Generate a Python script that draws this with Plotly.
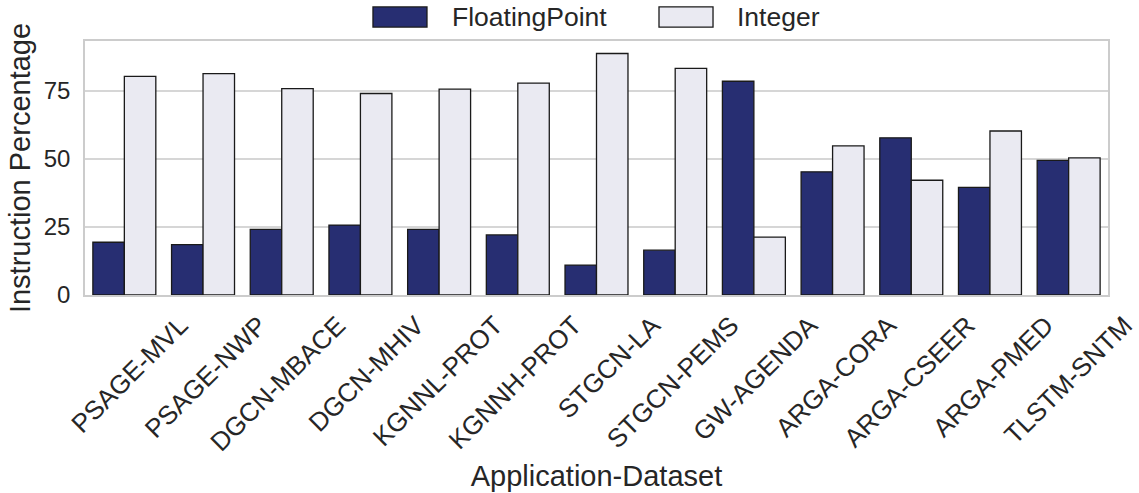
import plotly.graph_objects as go

categories = ["PSAGE-MVL", "PSAGE-NWP", "DGCN-MBACE", "DGCN-MHIV", "KGNNL-PROT",
              "KGNNH-PROT", "STGCN-LA", "STGCN-PEMS", "GW-AGENDA", "ARGA-CORA",
              "ARGA-CSEER", "ARGA-PMED", "TLSTM-SNTM"]
floating_point = [19.4, 18.5, 24.1, 25.7, 24.1, 22.1, 11.0, 16.5, 78.6, 45.3, 57.8, 39.6, 49.5]
integer = [80.4, 81.4, 75.9, 74.1, 75.7, 77.9, 88.8, 83.3, 21.3, 54.8, 42.2, 60.3, 50.4]
series_names = ["FloatingPoint", "Integer"]
y_ticks = [0, 25, 50, 75]

colors = ["#272E72", "#EAEAF2"]
edge = "#1A1A1A"
font_family = "Liberation Sans, Arial, sans-serif"

fig = go.Figure()
for name, vals, col in zip(series_names, [floating_point, integer], colors):
    fig.add_trace(go.Bar(x=categories, y=vals, name=name, showlegend=False,
                         marker=dict(color=col, line=dict(color=edge, width=1.3))))

# custom legend (matplotlib-style wide patches) placed above the plot area
legend_layout = [(0.2815, 0.3343, 0.3568), (0.5611, 0.6139, 0.6354)]
for name, col, (x0, x1, xt) in zip(series_names, colors, legend_layout):
    fig.add_shape(type="rect", xref="paper", yref="paper", x0=x0, x1=x1, y0=1.055, y1=1.134,
                  fillcolor=col, line=dict(color=edge, width=1.3))
    fig.add_annotation(xref="paper", yref="paper", x=xt, y=1.0945, text=name, showarrow=False,
                       xanchor="left", yanchor="middle", font=dict(size=26.5, color="#262626"))

fig.update_layout(
    width=1139, height=493,
    margin=dict(l=85, r=31, t=41, b=198, autoexpand=False),
    paper_bgcolor="white", plot_bgcolor="white",
    barmode="group", bargap=0.2, bargroupgap=0,
    font=dict(family=font_family, size=24, color="#262626"),
)
fig.update_xaxes(
    title=dict(text="Application-Dataset", font=dict(size=29), standoff=10),
    tickangle=-45, tickfont=dict(size=26), ticklabelshift=56, ticklabelstandoff=3,
    showline=True, linecolor="#CCCCCC", linewidth=1.5, mirror=True,
    showgrid=False, ticks="",
)
fig.update_yaxes(
    title=dict(text="Instruction Percentage", font=dict(size=29), standoff=5),
    range=[0, 93.4], tickvals=y_ticks, tickfont=dict(size=24), ticklabelstandoff=8,
    showgrid=True, gridcolor="#D6D6D6", gridwidth=1.5,
    showline=True, linecolor="#CCCCCC", linewidth=1.5, mirror=True,
    zeroline=False, ticks="",
)

fig.write_html("out.html", config={"displayModeBar": False},
               post_script="document.body.style.margin='0';document.body.style.overflow='hidden';")
